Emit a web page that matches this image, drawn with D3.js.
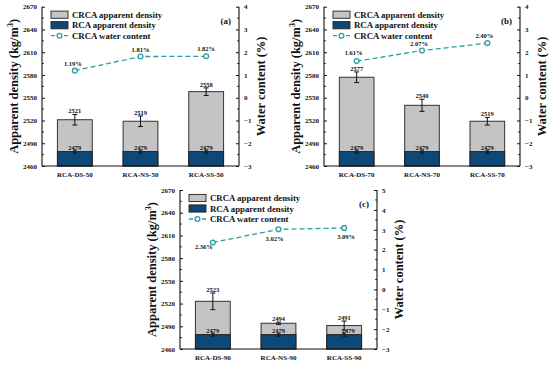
<!DOCTYPE html>
<html><head><meta charset="utf-8">
<script src="https://cdn.jsdelivr.net/npm/d3@7/dist/d3.min.js"></script>
<style>
html,body{margin:0;padding:0;background:#fff;}
svg text{font-family:"Liberation Serif","Times New Roman",serif;font-weight:bold;fill:#111;}
</style></head>
<body><svg id="chart" width="550" height="365"></svg>
<script>
// ---- data ----
const catsA = ["RCA-DS-50","RCA-NS-50","RCA-SS-50"];
const crcaA = [2521,2519,2558];
const crcaErrA = [7,7,5];
const rcaA = [2479,2479,2479];
const rcaErrA = [2,2,2];
const waterA = [1.19,1.81,1.82];
const waterErrA = [0.03,0.03,0.04];

const catsB = ["RCA-DS-70","RCA-NS-70","RCA-SS-70"];
const crcaB = [2577,2540,2519];
const crcaErrB = [7,8,5];
const rcaB = [2479,2479,2479];
const rcaErrB = [2,2,2];
const waterB = [1.61,2.07,2.40];
const waterErrB = [0.03,0.03,0.05];

const catsC = ["RCA-DS-90","RCA-NS-90","RCA-SS-90"];
const crcaC = [2523,2494,2491];
const crcaErrC = [11,1.5,6];
const rcaC = [2479,2479,2479];
const rcaErrC = [2,2,2];
const waterC = [2.36,3.02,3.09];
const waterErrC = [0.03,0.04,0.12];

const densityTicks = [2460,2490,2520,2550,2580,2610,2640,2670];
const waterTicksAB = [-3,-2,-1,0,1,2,3,4];
const waterTicksC = [-3,-2,-1,0,1,2,3,4,5];
const legendLabels = ["CRCA apparent density","RCA apparent density","CRCA water content"];

// ---- style ----
const GRAY = "#c4c4c4", NAVY = "#0d4877", TEAL = "#2a9fa0";

const panels = [
  {tag:"(a)", L:42, R:239, T:6.7, B:166, cats:catsA, crca:crcaA, crcaErr:crcaErrA, rca:rcaA, rcaErr:rcaErrA, water:waterA, waterErr:waterErrA, wTicks:waterTicksAB, lab:[[-2,-5],[0,-5],[0,-5]], rcaDx:[0,0,0]},
  {tag:"(b)", L:324, R:520, T:6.7, B:166, cats:catsB, crca:crcaB, crcaErr:crcaErrB, rca:rcaB, rcaErr:rcaErrB, water:waterB, waterErr:waterErrB, wTicks:waterTicksAB, lab:[[-3,-6],[-3,-4.5],[-3,-5]], rcaDx:[0,0,0]},
  {tag:"(c)", L:180, R:377, T:190, B:349, cats:catsC, crca:crcaC, crcaErr:crcaErrC, rca:rcaC, rcaErr:rcaErrC, water:waterC, waterErr:waterErrC, wTicks:waterTicksC, lab:[[-9,7],[-4,12],[2,11]], rcaDx:[0,0,4]}
];

const svg = d3.select("#chart");

function drawPanel(p){
  const g = svg.append("g");
  const x = d3.scaleBand().domain(p.cats).range([p.L,p.R]).paddingInner(0.47).paddingOuter(0.235);
  const y = d3.scaleLinear().domain([densityTicks[0], densityTicks[densityTicks.length-1]]).range([p.B,p.T]);
  const yw = d3.scaleLinear().domain([p.wTicks[0], p.wTicks[p.wTicks.length-1]]).range([p.B,p.T]);
  const bw = x.bandwidth();

  g.selectAll(".crca").data(p.cats).enter().append("rect")
    .attr("x",d=>x(d)).attr("width",bw)
    .attr("y",(d,i)=>y(p.crca[i])).attr("height",(d,i)=>y.range()[0]-y(p.crca[i]))
    .attr("fill",GRAY).attr("stroke","#333").attr("stroke-width",1);
  g.selectAll(".rca").data(p.cats).enter().append("rect")
    .attr("x",d=>x(d)).attr("width",bw)
    .attr("y",(d,i)=>y(p.rca[i])).attr("height",(d,i)=>y.range()[0]-y(p.rca[i]))
    .attr("fill",NAVY).attr("stroke","#222").attr("stroke-width",1);

  function errBar(cx, yTop, yBot, cap){
    g.append("line").attr("x1",cx).attr("x2",cx).attr("y1",yTop).attr("y2",yBot).attr("stroke","#111").attr("stroke-width",1);
    g.append("line").attr("x1",cx-cap).attr("x2",cx+cap).attr("y1",yTop).attr("y2",yTop).attr("stroke","#111").attr("stroke-width",1);
    g.append("line").attr("x1",cx-cap).attr("x2",cx+cap).attr("y1",yBot).attr("y2",yBot).attr("stroke","#111").attr("stroke-width",1);
  }
  p.cats.forEach((c,i)=>{
    const cx = x(c)+bw/2;
    errBar(cx, y(p.crca[i]+p.crcaErr[i]), y(p.crca[i]-p.crcaErr[i]), 2.5);
    errBar(cx, y(p.rca[i]+p.rcaErr[i]), y(p.rca[i]-p.rcaErr[i]), 2);
    g.append("text").attr("x",cx).attr("y",y(p.crca[i]+p.crcaErr[i])-1)
      .attr("text-anchor","middle").attr("font-size",6.5).text(p.crca[i]);
    g.append("text").attr("x",cx+p.rcaDx[i]).attr("y",y(p.rca[i])-1.5)
      .attr("text-anchor","middle").attr("font-size",6.5).text(p.rca[i]);
  });

  g.append("line").attr("x1",p.L).attr("x2",p.L).attr("y1",p.T).attr("y2",p.B).attr("stroke","#111").attr("stroke-width",1.1);
  g.append("line").attr("x1",p.R).attr("x2",p.R).attr("y1",p.T).attr("y2",p.B).attr("stroke","#111").attr("stroke-width",1.1);
  g.append("line").attr("x1",p.L).attr("x2",p.R).attr("y1",p.B).attr("y2",p.B).attr("stroke","#111").attr("stroke-width",1.1);

  const leftAxis = d3.axisLeft(y).tickValues(densityTicks).tickSize(-3).tickPadding(5).tickFormat(d3.format("d"));
  const la = g.append("g").attr("transform",`translate(${p.L},0)`).call(leftAxis);
  la.select(".domain").remove();
  la.selectAll("text").attr("font-size",7).attr("font-family","Liberation Serif").attr("font-weight","bold").attr("fill","#111");
  la.selectAll("line").attr("stroke","#111");
  const minorD = densityTicks.slice(0,-1).map(v=>v+15);
  g.selectAll(".mnl").data(minorD).enter().append("line")
    .attr("x1",p.L).attr("x2",p.L+1.8).attr("y1",d=>y(d)).attr("y2",d=>y(d)).attr("stroke","#111");

  const rightAxis = d3.axisRight(yw).tickValues(p.wTicks).tickSize(-3).tickPadding(5).tickFormat(d3.format("d"));
  const ra = g.append("g").attr("transform",`translate(${p.R},0)`).call(rightAxis);
  ra.select(".domain").remove();
  ra.selectAll("text").attr("font-size",7).attr("font-family","Liberation Serif").attr("font-weight","bold").attr("fill","#111");
  ra.selectAll("line").attr("stroke","#111");
  const minorW = p.wTicks.slice(0,-1).map(v=>v+0.5);
  g.selectAll(".mnr").data(minorW).enter().append("line")
    .attr("x1",p.R).attr("x2",p.R-1.8).attr("y1",d=>yw(d)).attr("y2",d=>yw(d)).attr("stroke","#111");

  const bottomAxis = d3.axisBottom(x).tickSize(0).tickPadding(6);
  const ba = g.append("g").attr("transform",`translate(0,${p.B})`).call(bottomAxis);
  ba.select(".domain").remove();
  ba.selectAll("text").attr("font-size",7).attr("font-family","Liberation Serif").attr("font-weight","bold").attr("fill","#111");

  const midY = (p.T+p.B)/2;
  const lt = g.append("text").attr("transform",`translate(${p.L-24},${midY}) rotate(-90)`)
    .attr("text-anchor","middle").attr("font-size",12.5);
  lt.append("tspan").text("Apparent density (kg/m");
  lt.append("tspan").attr("font-size",8).attr("dy",-5).text("3");
  lt.append("tspan").attr("dy",5).text(")");
  g.append("text").attr("transform",`translate(${p.R+26},${midY}) rotate(-90)`)
    .attr("text-anchor","middle").attr("font-size",12.5).text("Water content (%)");

  const pts = p.cats.map((c,i)=>[x(c)+bw/2, yw(p.water[i])]);
  g.append("path").attr("d",d3.line()(pts)).attr("fill","none").attr("stroke",TEAL)
    .attr("stroke-width",1.3).attr("stroke-dasharray","5,3");
  p.cats.forEach((c,i)=>{
    const cx = x(c)+bw/2;
    const t = yw(p.water[i]+p.waterErr[i]), b = yw(p.water[i]-p.waterErr[i]);
    g.append("line").attr("x1",cx).attr("x2",cx).attr("y1",t).attr("y2",b).attr("stroke",TEAL).attr("stroke-width",1);
    g.append("line").attr("x1",cx-2).attr("x2",cx+2).attr("y1",t).attr("y2",t).attr("stroke",TEAL).attr("stroke-width",1);
    g.append("line").attr("x1",cx-2).attr("x2",cx+2).attr("y1",b).attr("y2",b).attr("stroke",TEAL).attr("stroke-width",1);
  });
  g.selectAll(".wpt").data(pts).enter().append("circle")
    .attr("cx",d=>d[0]).attr("cy",d=>d[1]).attr("r",2.4)
    .attr("fill","#fff").attr("stroke",TEAL).attr("stroke-width",1.3);
  p.cats.forEach((c,i)=>{
    g.append("text").attr("x",pts[i][0]+p.lab[i][0]).attr("y",pts[i][1]+p.lab[i][1])
      .attr("text-anchor","middle").attr("font-size",6.5).text(p.water[i].toFixed(2)+"%");
  });

  const lx = p.L+9, ly = p.T+8;
  g.append("rect").attr("x",lx).attr("y",ly-3.6).attr("width",17).attr("height",7.2).attr("fill",GRAY).attr("stroke","#222").attr("stroke-width",0.9);
  g.append("rect").attr("x",lx).attr("y",ly+10.5-3.6).attr("width",17).attr("height",7.2).attr("fill",NAVY).attr("stroke","#222").attr("stroke-width",0.9);
  g.append("line").attr("x1",lx).attr("x2",lx+17).attr("y1",ly+21).attr("y2",ly+21).attr("stroke",TEAL).attr("stroke-width",1.3).attr("stroke-dasharray","4,2.5");
  g.append("circle").attr("cx",lx+8.5).attr("cy",ly+21).attr("r",2.4).attr("fill","#fff").attr("stroke",TEAL).attr("stroke-width",1.3);
  legendLabels.forEach((t,i)=>{
    g.append("text").attr("x",lx+21).attr("y",ly+i*10.5+3).attr("font-size",8.8).text(t);
  });

  g.append("text").attr("x",p.R-8).attr("y",p.T+17).attr("text-anchor","end").attr("font-size",9).text(p.tag);
}

panels.forEach(drawPanel);
</script></body></html>
